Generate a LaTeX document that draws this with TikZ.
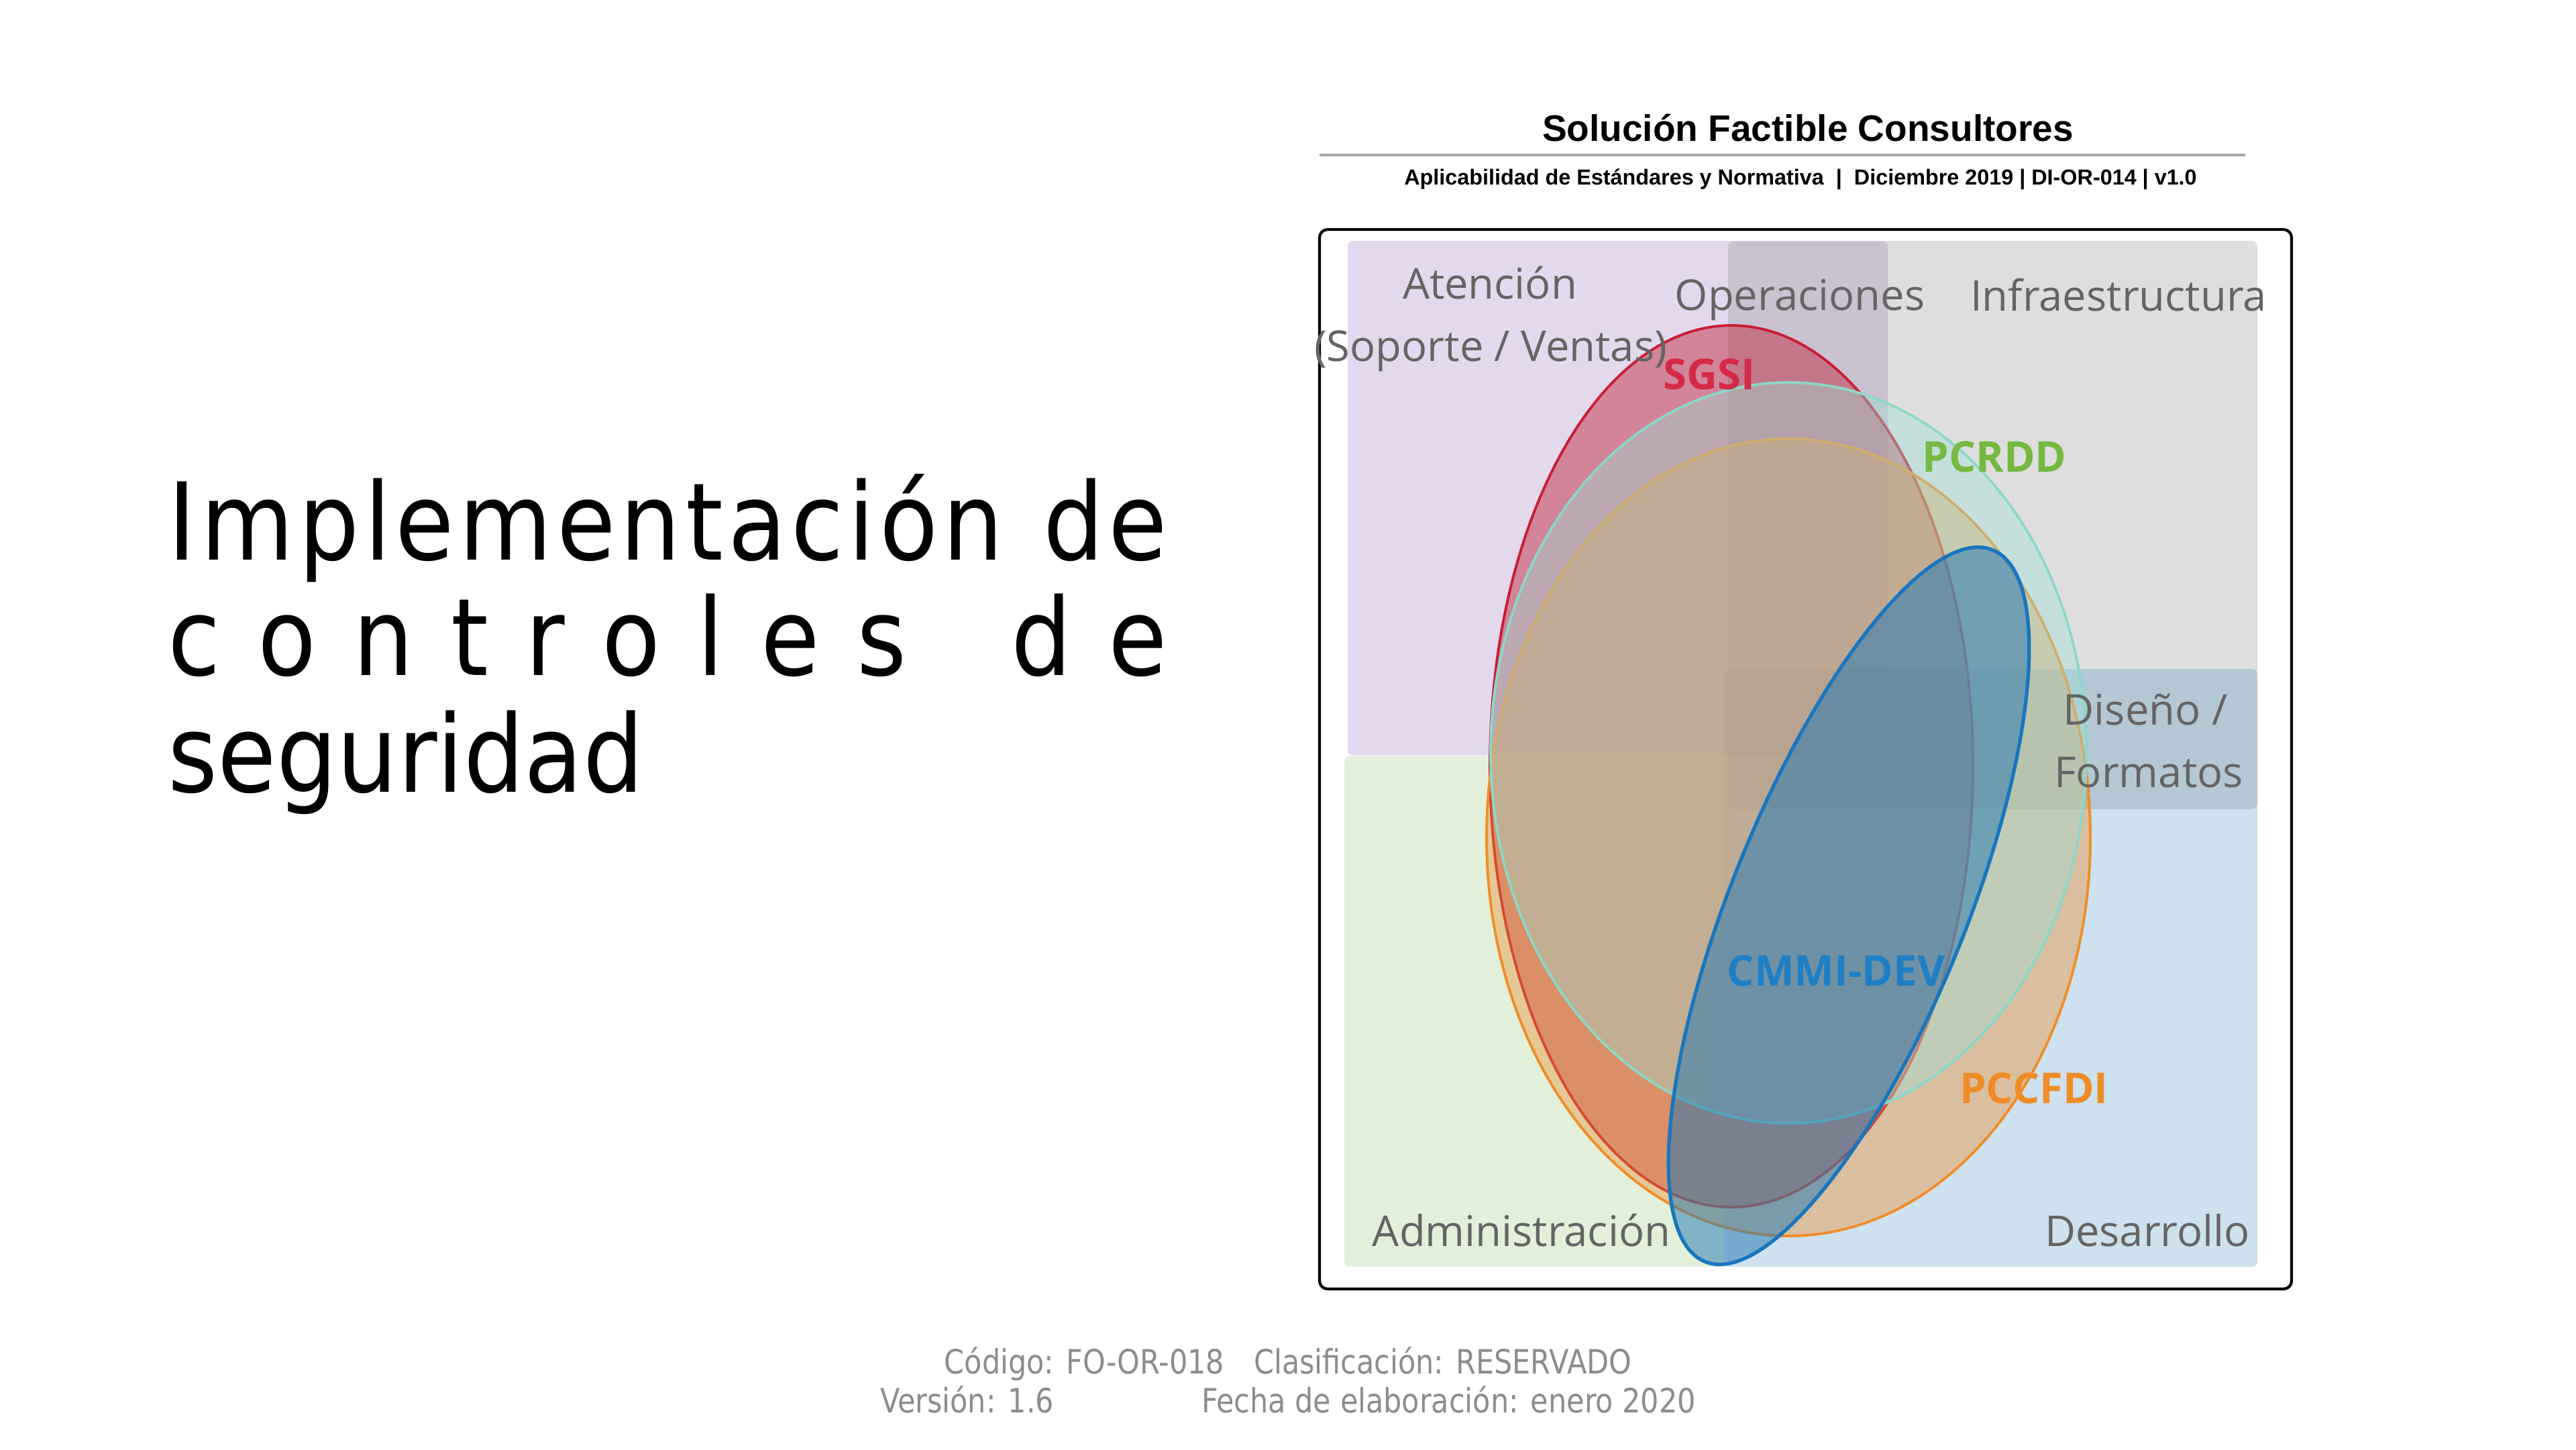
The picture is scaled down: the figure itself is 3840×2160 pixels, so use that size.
\documentclass[tikz,border=0pt]{standalone}
\usepackage{fontspec}
\setmainfont{DejaVu Sans}
\newfontfamily\titlefont[FakeStretch=0.89]{DejaVu Sans}
\newfontfamily\footfont[FakeStretch=0.86]{DejaVu Sans}
\newfontfamily\headfont{Liberation Sans}
\newfontfamily\labfont{Open Sans}
\definecolor{cpurple}{RGB}{148,103,189}
\definecolor{cgray}{RGB}{128,128,128}
\definecolor{cgreen}{RGB}{150,200,115}
\definecolor{cblue}{RGB}{31,119,180}
\definecolor{redfill}{RGB}{190,30,50}
\definecolor{rededge}{RGB}{200,30,52}
\definecolor{tealfill}{RGB}{157,225,215}
\definecolor{tealedge}{RGB}{140,215,200}
\definecolor{orfill}{RGB}{235,140,45}
\definecolor{oredge}{RGB}{240,140,40}
\definecolor{bledge}{RGB}{25,118,190}
\definecolor{labgray}{RGB}{100,100,100}
\definecolor{footgray}{RGB}{140,140,140}
\definecolor{tsgsi}{RGB}{212,42,69}
\definecolor{tpcrdd}{RGB}{118,184,66}
\definecolor{tcmmi}{RGB}{31,127,196}
\definecolor{tpccfdi}{RGB}{240,140,40}
\tikzset{
  zone/.style={rounded corners=0.08cm},
  lab/.style={font=\labfont\fontsize{18}{20}\selectfont, text=labgray, inner sep=0pt, anchor=base},
  setlab/.style={font=\labfont\bfseries\fontsize{18}{20}\selectfont, inner sep=0pt, anchor=base},
  ttl/.style={font=\titlefont\fontsize{45.5}{50}\selectfont, inner sep=0pt, anchor=base west},
  foot/.style={font=\footfont\fontsize{14.2}{16}\selectfont, text=footgray, inner sep=0pt, anchor=base},
  hd/.style={font=\headfont\bfseries\fontsize{15.65}{18}\selectfont, inner sep=0pt, anchor=base},
  sub/.style={font=\headfont\bfseries\fontsize{9.2}{11}\selectfont, inner sep=0pt, anchor=base},
  sgsiell/.style={draw=rededge, line width=1.1pt, fill=redfill, fill opacity=0.45},
  orell/.style={draw=oredge, line width=1.1pt, fill=orfill, fill opacity=0.4},
  tealell/.style={draw=tealedge, line width=1.1pt, fill=tealfill, fill opacity=0.4},
  blell/.style={draw=bledge, line width=1.5pt, fill=cblue, fill opacity=0.5},
}
\begin{document}
\begin{tikzpicture}[x=0.01cm,y=0.01cm]
\useasboundingbox (0,0) rectangle (3840,-2160);
\fill[white] (0,0) rectangle (3840,-2160);

% header
\node[hd] (h1) at (2695,-210) {Solución Factible Consultores};
\draw[line width=0.9pt, color=gray!70] (1967,-231) -- (3347,-231);
\node[sub] (h2) at (2684,-275) {Aplicabilidad de Estándares y Normativa\ \ |\ \ Diciembre 2019 | DI-OR-014 | v1.0};

% zones
\fill[zone, cpurple, fill opacity=0.25] (2009,-359) rectangle (2814,-1126);
\fill[zone, cgray, fill opacity=0.26] (2576,-359) rectangle (3365,-1206);
\fill[zone, cgreen, fill opacity=0.27] (2004,-1127) rectangle (2570,-1888);
\fill[zone, cblue, fill opacity=0.22] (2570,-997) rectangle (3365,-1888);

% ellipses
\draw[sgsiell] (2581,-1142) ellipse [x radius=360, y radius=657];
\draw[orell] (2666,-1248) ellipse [x radius=450, y radius=594];
\draw[tealell] (2666,-1122) ellipse [x radius=444, y radius=552];
\draw[blell, rotate around={-22:(2756,-1350)}] (2756,-1350) ellipse [x radius=175, y radius=572];

% frame
\draw[line width=1.2pt, rounded corners=0.12cm] (1967,-342) rectangle (3416,-1921);

% zone labels
\node[lab] (aten) at (2221,-445) {Atención};
\node[lab] (sopv) at (2222,-538) {(Soporte / Ventas)};
\node[lab] (oper) at (2683,-462) {Operaciones};
\node[lab] (infra) at (3158,-463) {Infraestructura};
\node[lab] (dis) at (3198,-1080) {Diseño /};
\node[lab] (form) at (3203,-1173) {Formatos};
\node[lab] (adm) at (2268,-1857) {Administración};
\node[lab] (desa) at (3201,-1857) {Desarrollo};

% set labels
\node[setlab, text=tsgsi] (sgsi) at (2548,-580) {SGSI};
\node[setlab, text=tpcrdd] (pcrdd) at (2973,-703) {PCRDD};
\node[setlab, text=tcmmi] (cmmi) at (2737,-1469) {CMMI-DEV};
\node[setlab, text=tpccfdi] (pccfdi) at (3032,-1644) {PCCFDI};

% title
\node[ttl] (t1) at (250,-834) {\makebox[14.89cm][l]{I\hfill m\hfill p\hfill l\hfill e\hfill m\hfill e\hfill n\hfill t\hfill a\hfill c\hfill i\hfill ó\hfill n\hfill\ \hfill d\hfill e}};
\node[ttl] (t2) at (250,-1006) {\makebox[14.89cm][l]{c\hfill o\hfill n\hfill t\hfill r\hfill o\hfill l\hfill e\hfill s\hfill\ \hfill d\hfill e}};
\node[ttl] (t3) at (250,-1180) {seguridad};

% footer
\node[foot] (f1) at (1920,-2047) {Código: FO-OR-018\hspace{0.44cm}Clasificación: RESERVADO};
\node[foot] (f2) at (1920,-2105) {Versión: 1.6\hspace{2.2cm}Fecha de elaboración: enero 2020};
\end{tikzpicture}
\end{document}
